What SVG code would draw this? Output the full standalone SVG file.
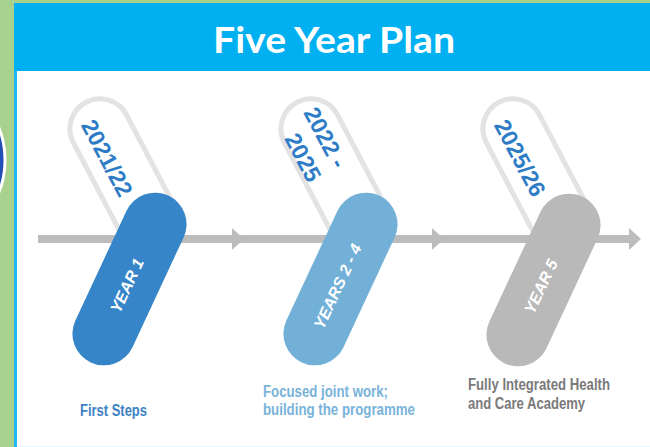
<svg xmlns="http://www.w3.org/2000/svg" width="650" height="447" viewBox="0 0 650 447">
  <defs>
    <style>
      .title { font-family: Lato, "Open Sans", "Liberation Sans", sans-serif; font-weight: bold; font-size: 37px; fill: #ffffff; }
      .yr { font-family: "Liberation Sans", Arial, sans-serif; font-weight: bold; font-size: 23px; fill: #2e7cc6; }
      .pilltxt { font-family: "Liberation Sans", Arial, sans-serif; font-style: italic; font-weight: bold; font-size: 16px; fill: #ffffff; }
      .lbl { font-family: "Liberation Sans Narrow", "Liberation Sans", Arial, sans-serif; font-weight: bold; font-size: 16px; }
      .outline { fill: #ffffff; stroke: #e3e3e3; stroke-width: 5; }
      .axis { fill: #bcbcbc; }
    </style>
    <radialGradient id="badge" cx="0.7" cy="0.5" r="0.6">
      <stop offset="0" stop-color="#2f6fe0"/>
      <stop offset="1" stop-color="#14298a"/>
    </radialGradient>
  </defs>

  <!-- page background -->
  <rect x="0" y="0" width="650" height="447" fill="#a9d18e"/>
  <!-- partial badge at left edge -->
  <ellipse cx="-60" cy="160" rx="65" ry="75" fill="url(#badge)" stroke="#ffffff" stroke-width="3"/>

  <!-- content panel -->
  <rect x="14" y="3" width="636" height="444" fill="#1fb9f2"/>
  <rect x="17" y="71" width="633" height="375" fill="#ffffff"/>
  <rect x="17" y="446" width="633" height="1" fill="#e3f7fd"/>

  <!-- header -->
  <g id="header">
    <rect x="14" y="3" width="636" height="68" fill="#00b0f0"/>
    <text class="title" x="334" y="53" text-anchor="middle" textLength="242" lengthAdjust="spacingAndGlyphs">Five Year Plan</text>
  </g>

  <!-- timeline axis -->
  <g id="connectors">
    <rect class="axis" x="38" y="235" width="596" height="8"/>
    <polygon class="axis" points="232,228 244,239 232,250"/>
    <polygon class="axis" points="432,228 444,239 432,250"/>
    <polygon class="axis" points="629,228 641,239 629,250"/>
  </g>

  <!-- year 1 -->
  <g id="node-year1">
    <rect class="outline" x="-85" y="-30" width="170" height="60" rx="30" transform="translate(125.5,177.5) rotate(62.3)"/>
    <text class="yr" transform="translate(107,158) rotate(62)" x="0" y="8" text-anchor="middle">2021/22</text>
    <g transform="translate(129.5,279) rotate(-65)">
      <rect x="-92" y="-31.5" width="184" height="63" rx="31.5" fill="#3585c8"/>
      <text class="pilltxt" x="-7" y="6" text-anchor="middle">YEAR 1</text>
    </g>
    <text class="lbl" x="80" y="416" fill="#3d82c4" textLength="67" lengthAdjust="spacingAndGlyphs">First Steps</text>
  </g>

  <!-- years 2 - 4 -->
  <g id="node-years2-4">
    <rect class="outline" x="-85" y="-30" width="170" height="60" rx="30" transform="translate(336.5,177.5) rotate(62.3)"/>
    <g class="yr" transform="translate(318,158) rotate(62)" text-anchor="end">
      <text x="18" y="-8">2022 -</text>
      <text x="18" y="21">2025</text>
    </g>
    <g transform="translate(340.5,279) rotate(-65)">
      <rect x="-92" y="-31.5" width="184" height="63" rx="31.5" fill="#72b0d8"/>
      <text class="pilltxt" x="-8" y="6" text-anchor="middle">YEARS 2 - 4</text>
    </g>
    <text class="lbl" x="263" y="397" fill="#79b3da" textLength="125" lengthAdjust="spacingAndGlyphs">Focused joint work;</text>
    <text class="lbl" x="263" y="415" fill="#79b3da" textLength="152" lengthAdjust="spacingAndGlyphs">building the programme</text>
  </g>

  <!-- year 5 -->
  <g id="node-year5">
    <rect class="outline" x="-85" y="-30" width="170" height="60" rx="30" transform="translate(538.5,177.5) rotate(62.3)"/>
    <text class="yr" transform="translate(520,158) rotate(62)" x="0" y="8" text-anchor="middle">2025/26</text>
    <g transform="translate(543.5,280) rotate(-65)">
      <rect x="-92" y="-31.5" width="184" height="63" rx="31.5" fill="#b9b9b9"/>
      <text class="pilltxt" x="-7" y="6" text-anchor="middle">YEAR 5</text>
    </g>
    <text class="lbl" x="468" y="390" fill="#7a7a7a" textLength="142" lengthAdjust="spacingAndGlyphs">Fully Integrated Health</text>
    <text class="lbl" x="468" y="409" fill="#7a7a7a" textLength="117" lengthAdjust="spacingAndGlyphs">and Care Academy</text>
  </g>
</svg>
